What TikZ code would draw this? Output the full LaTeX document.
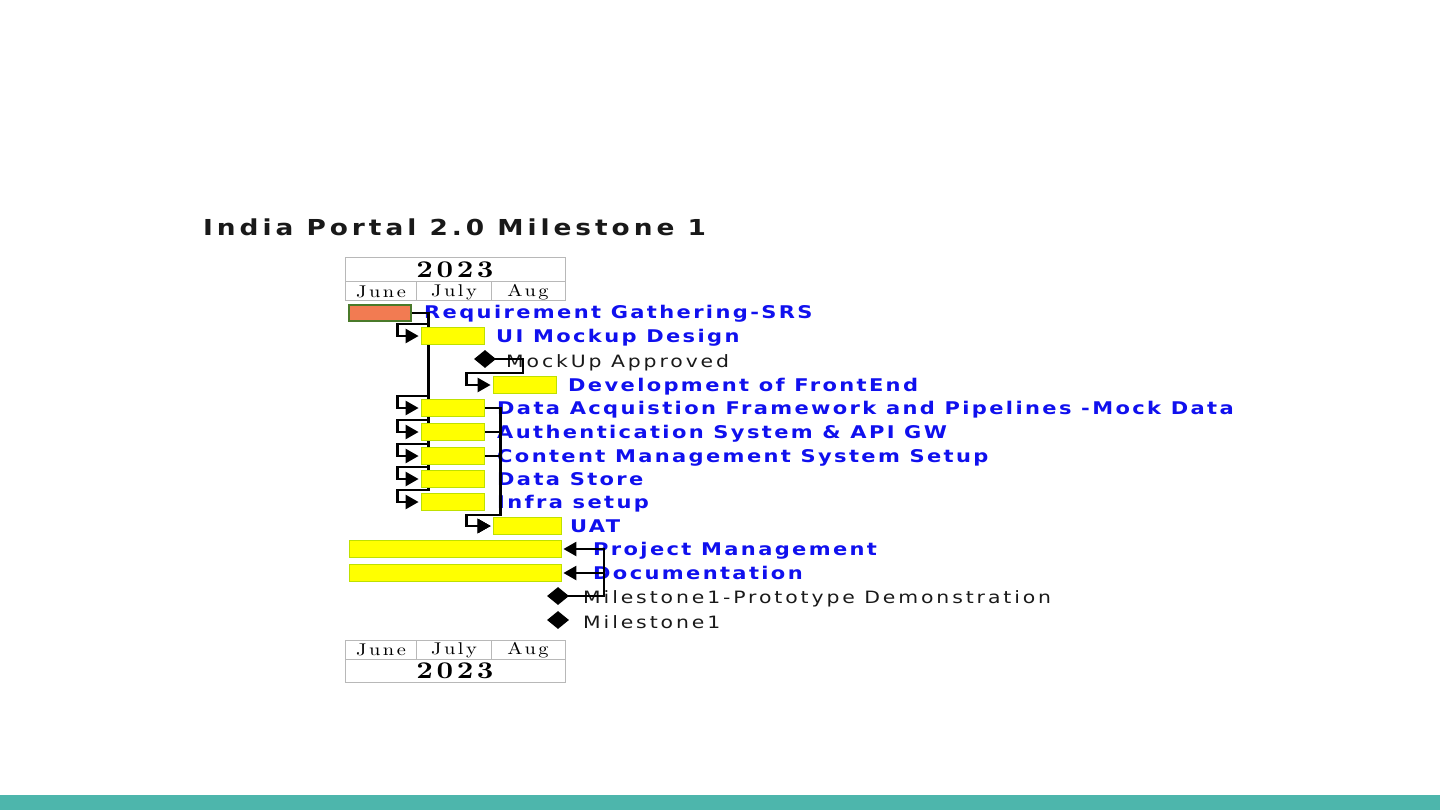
\documentclass[tikz,border=0pt]{standalone}
\usepackage{fontspec}
\usetikzlibrary{arrows.meta,shapes.geometric}
\newfontfamily\ganttsans{DejaVu Sans}[FakeStretch=1.2,LetterSpace=13.5]
\newfontfamily\ganttms{DejaVu Sans}[FakeStretch=1.2,LetterSpace=17]
\newfontfamily\gantttitle{DejaVu Sans}[FakeStretch=1.2,LetterSpace=18]
\newfontfamily\ganttserif{lmroman10}[Extension=.otf,UprightFont=*-regular,BoldFont=*-bold,FakeStretch=1.2,LetterSpace=15]
\definecolor{taskblue}{HTML}{1010EE}
\definecolor{barfill}{HTML}{FFFF00}
\definecolor{barline}{HTML}{BFE000}
\definecolor{reqfill}{HTML}{F27B52}
\definecolor{reqline}{HTML}{4A7A2A}
\definecolor{calgridc}{HTML}{B8B8B8}
\definecolor{footer}{HTML}{4DB6AC}
\pgfdeclarelayer{bars}
\pgfsetlayers{main,bars}
\begin{document}
\begin{tikzpicture}[x=1pt,y=-1pt,
  tasklabel/.style={anchor=base west,inner sep=0pt,text=taskblue,
    font=\ganttsans\bfseries\fontsize{17.5}{20}\selectfont},
  mslabel/.style={anchor=base west,inner sep=0pt,text=black!90,
    font=\ganttms\fontsize{17}{20}\selectfont},
  titlelabel/.style={anchor=base west,inner sep=0pt,text=black!90,
    font=\gantttitle\bfseries\fontsize{22}{26}\selectfont},
  yearlabel/.style={inner sep=0pt,font=\ganttserif\bfseries\fontsize{24}{28}\selectfont},
  monthlabel/.style={inner sep=0pt,font=\ganttserif\fontsize{17}{20}\selectfont},
  calgrid/.style={draw=calgridc,line width=1pt},
  taskbar/.style={rectangle,inner sep=0pt,fill=barfill,draw=barline,
    line width=0.8pt,minimum height=17.5pt},
  reqbar/.style={taskbar,fill=reqfill,draw=reqline,line width=1.2pt,minimum height=16pt},
  msmark/.style={diamond,fill=black,inner sep=0pt,minimum width=22pt,minimum height=18pt},
  dep/.style={line width=2.4pt,line join=miter,shorten >=2pt,
    -{Triangle[length=13pt,width=14pt]}}]
\useasboundingbox (0,0) rectangle (1440,810);
\fill[footer] (0,795) rectangle (1440,810);

% title
\node[titlelabel] (title) at (203,236) {India Portal 2.0 Milestone 1};

% calendar header
\draw[calgrid] (345,258) rectangle (565,301);
\draw[calgrid] (345,282) -- (565,282) (416,282) -- (416,301) (491,282) -- (491,301);
\node[yearlabel] (yeartop) at (455,270) {2023};
\node[monthlabel] (juntop) at (381,292) {June};
\node[monthlabel] (jultop) at (454,292) {July};
\node[monthlabel] (augtop) at (528,292) {Aug};

% calendar footer
\draw[calgrid] (345,640) rectangle (565,682);
\draw[calgrid] (345,659) -- (565,659) (416,640) -- (416,659) (491,640) -- (491,659);
\node[monthlabel] (junbot) at (381,650) {June};
\node[monthlabel] (julbot) at (454,650) {July};
\node[monthlabel] (augbot) at (528,650) {Aug};
\node[yearlabel] (yearbot) at (455,671) {2023};

% task and milestone labels
\node[tasklabel] (reqL)   at (424,319) {Requirement Gathering-SRS};
\node[tasklabel] (uiL)    at (496,342) {UI Mockup Design};
\node[mslabel]   (mockL)  at (506,367) {MockUp Approved};
\node[tasklabel] (devL)   at (568,391) {Development of FrontEnd};
\node[tasklabel] (daL)    at (497,414) {Data Acquistion Framework and Pipelines -Mock Data};
\node[tasklabel] (authL)  at (497,438) {Authentication System \& API GW};
\node[tasklabel] (cmsL)   at (497,462) {Content Management System Setup};
\node[tasklabel] (dsL)    at (497,485) {Data Store};
\node[tasklabel] (infraL) at (497,508) {Infra setup};
\node[tasklabel] (uatL)   at (570,532) {UAT};
\node[tasklabel] (pmL)    at (593,555) {Project Management};
\node[tasklabel] (docL)   at (593,579) {Documentation};
\node[mslabel]   (protoL) at (583,603) {Milestone1-Prototype Demonstration};
\node[mslabel]   (m1L)    at (583,628) {Milestone1};

% bars and milestone marks
\begin{pgfonlayer}{bars}
\node[reqbar,minimum width=62pt]  (req)   at (380,313)   {};
\node[taskbar,minimum width=63pt] (ui)    at (452.5,336) {};
\node[taskbar,minimum width=63pt] (dev)   at (524.5,385) {};
\node[taskbar,minimum width=63pt] (da)    at (452.5,408) {};
\node[taskbar,minimum width=63pt] (auth)  at (452.5,432) {};
\node[taskbar,minimum width=63pt] (cms)   at (452.5,456) {};
\node[taskbar,minimum width=63pt] (ds)    at (452.5,479) {};
\node[taskbar,minimum width=63pt] (infra) at (452.5,502) {};
\node[taskbar,minimum width=68pt] (uat)   at (527,526)   {};
\node[taskbar,minimum width=212pt] (pm)   at (455,549)   {};
\node[taskbar,minimum width=212pt] (doc)  at (455,573)   {};
\node[msmark] (mock)  at (485,359) {};
\node[msmark] (proto) at (558,596) {};
\node[msmark] (m1)    at (558,620) {};
\end{pgfonlayer}

% dependencies
\foreach \t in {ui,da,auth,cms,ds,infra}
  \draw[dep] (req.east) -- ++(17,0) |- ([xshift=-23pt,yshift=12pt]\t.west) |- (\t.west);
\draw[dep] (mock.center) -- ++(38,0) |- ([xshift=-26pt,yshift=12pt]dev.west) |- (dev.west);
\foreach \t in {da,auth,cms}
  \draw[dep] (\t.east) -- ++(16,0) |- ([xshift=-26pt,yshift=11pt]uat.west) |- (uat.west);
\draw[dep] (proto.center) -- ++(46,0) |- (pm.east);
\draw[dep] (proto.center) -- ++(46,0) |- (doc.east);
\end{tikzpicture}
\end{document}
